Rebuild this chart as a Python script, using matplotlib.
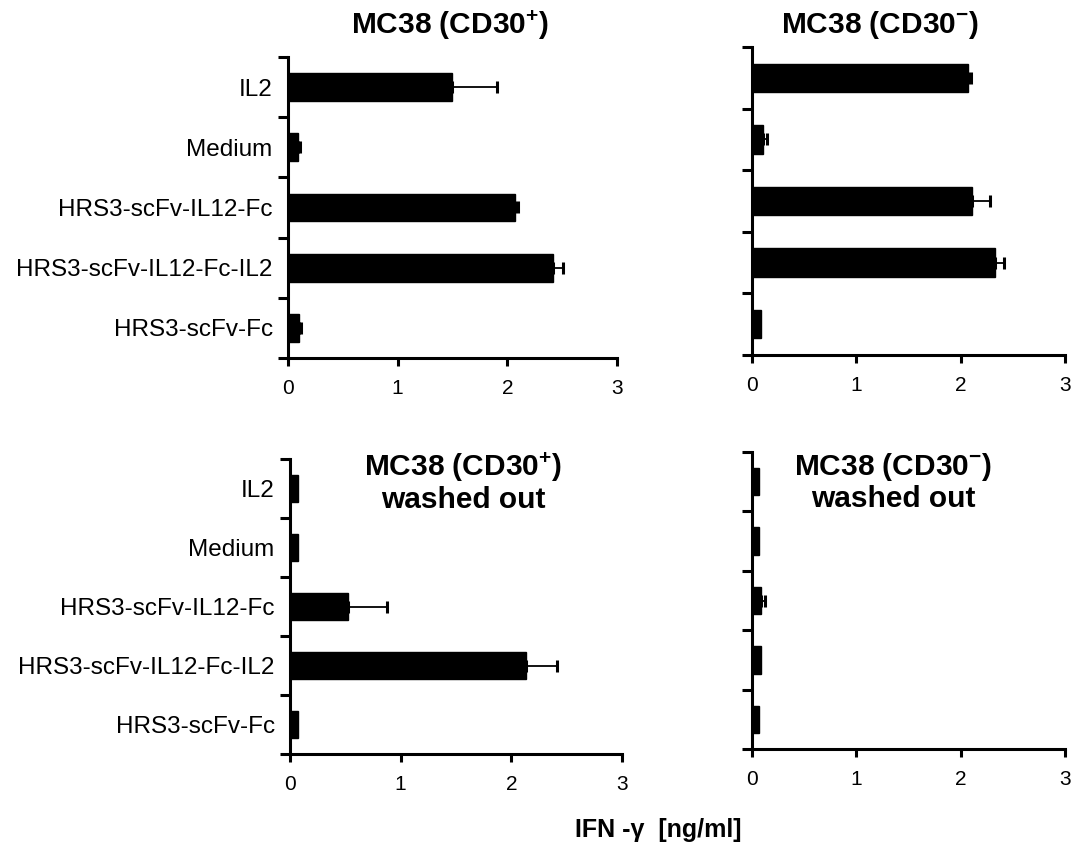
import matplotlib
matplotlib.use("Agg")
import matplotlib.pyplot as plt
import numpy as np

plt.rcParams['font.family'] = ['Liberation Sans', 'DejaVu Sans']
plt.rcParams['mathtext.fontset'] = 'custom'
plt.rcParams['mathtext.rm'] = 'Liberation Sans'
plt.rcParams['mathtext.bf'] = 'Liberation Sans:bold'

categories = ["IL2", "Medium", "HRS3-scFv-IL12-Fc", "HRS3-scFv-IL12-Fc-IL2", "HRS3-scFv-Fc"]
xticks = [0, 1, 2, 3]

cd30pos_vals = [1.50, 0.09, 2.07, 2.42, 0.10]
cd30pos_err = [0.41, 0.02, 0.03, 0.09, 0.02]
cd30neg_vals = [2.07, 0.11, 2.11, 2.33, 0.09]
cd30neg_err = [0.03, 0.03, 0.17, 0.09, 0.00]
cd30pos_wash_vals = [0.07, 0.07, 0.52, 2.13, 0.07]
cd30pos_wash_err = [0.00, 0.00, 0.36, 0.28, 0.00]
cd30neg_wash_vals = [0.07, 0.07, 0.09, 0.09, 0.07]
cd30neg_wash_err = [0.00, 0.00, 0.03, 0.00, 0.00]

titles = ["MC38 (CD30$^{\\mathbf{+}}$)", "MC38 (CD30$^{\\mathbf{-}}$)",
          "MC38 (CD30$^{\\mathbf{+}}$)\nwashed out", "MC38 (CD30$^{\\mathbf{-}}$)\nwashed out"]

W, H = 1074, 849
fig = plt.figure(figsize=(W / 100, H / 100), dpi=100)

def px_axes(x0, x1, y0, y1):
    return fig.add_axes([x0 / W, 1 - y1 / H, (x1 - x0) / W, (y1 - y0) / H])

panels = [
    (px_axes(288, 617, 57, 358), cd30pos_vals, cd30pos_err, True),
    (px_axes(752, 1065, 47, 355), cd30neg_vals, cd30neg_err, False),
    (px_axes(290, 622, 459, 754), cd30pos_wash_vals, cd30pos_wash_err, True),
    (px_axes(752, 1065, 452, 749), cd30neg_wash_vals, cd30neg_wash_err, False),
]

for ax, vals, err, show_labels in panels:
    y = np.arange(len(categories))
    vals = np.asarray(vals)
    err = np.asarray(err)
    ax.barh(y, vals, height=0.46, color='black', edgecolor='black', zorder=2)
    m = err > 0
    ax.errorbar(vals[m], y[m], xerr=[np.zeros(m.sum()), err[m]], fmt='none',
                ecolor='black', elinewidth=1.3, capsize=4, capthick=2.2, zorder=3)
    ax.set_xlim(0, 3)
    ax.set_ylim(4.5, -0.5)
    ax.set_xticks(xticks)
    ax.set_xticklabels([str(t) for t in xticks], fontsize=15)
    ax.set_yticks(y)
    if show_labels:
        ax.set_yticklabels(categories, fontsize=17.5)
    else:
        ax.set_yticklabels([])
    ax.set_yticks(np.arange(-0.5, 5.0, 1.0), minor=True)
    ax.tick_params(axis='y', which='major', length=0, pad=11)
    ax.tick_params(axis='y', which='minor', length=7, width=2.2)
    ax.tick_params(axis='x', which='major', length=6, width=2.2, pad=9)
    for s in ['top', 'right']:
        ax.spines[s].set_visible(False)
    for s in ['left', 'bottom']:
        ax.spines[s].set_linewidth(2.2)
    ax.patch.set_alpha(0)

fig.text(450 / W, 1 - 25 / H, titles[0], ha='center', va='center', fontsize=21.5, fontweight='bold')
fig.text(880 / W, 1 - 25 / H, titles[1], ha='center', va='center', fontsize=21.5, fontweight='bold')
fig.text(463 / W, 1 - 482 / H, titles[2], ha='center', va='center', fontsize=21.5, fontweight='bold', linespacing=1.05)
fig.text(893 / W, 1 - 482 / H, titles[3], ha='center', va='center', fontsize=21.5, fontweight='bold', linespacing=1.05)
fig.text(658 / W, 1 - 830 / H, "IFN -γ  [ng/ml]", ha='center', va='center', fontsize=18, fontweight='bold')

fig.savefig("out.png", dpi=100)
